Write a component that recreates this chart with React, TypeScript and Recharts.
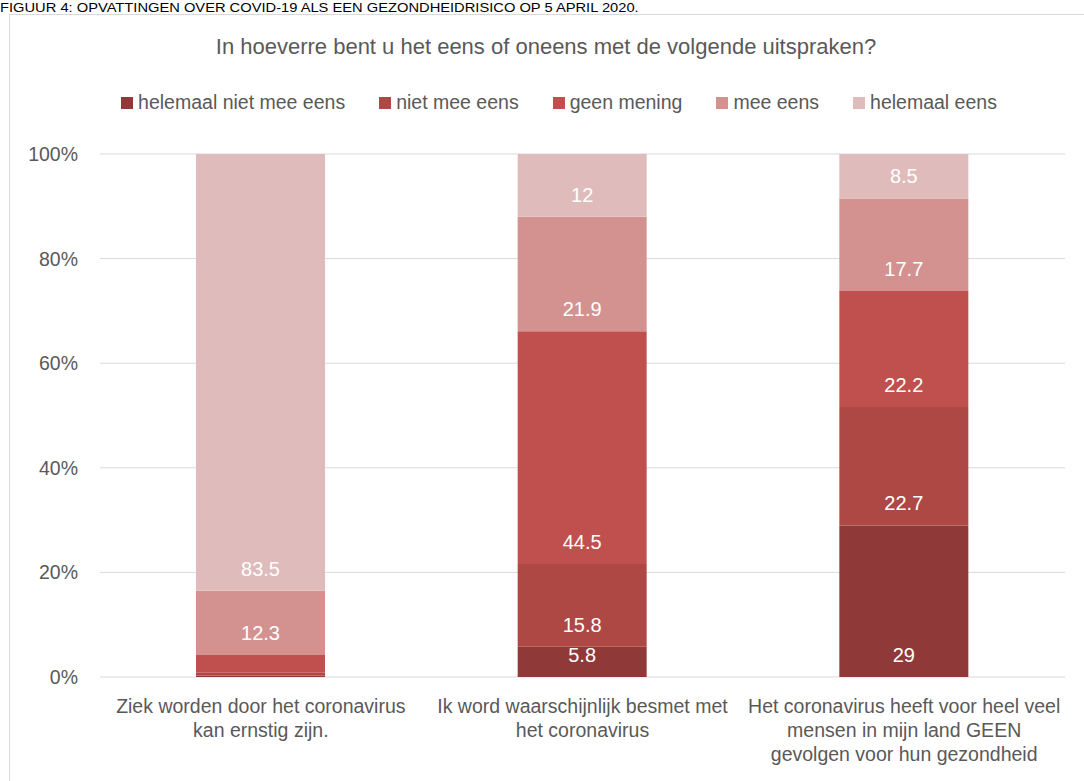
import React from 'react';
import { BarChart, Bar, XAxis, YAxis, CartesianGrid, Legend, LabelList } from 'recharts';

const categories = [
  'Ziek worden door het coronavirus\nkan ernstig zijn.',
  'Ik word waarschijnlijk besmet met\nhet coronavirus',
  'Het coronavirus heeft voor heel veel\nmensen in mijn land GEEN\ngevolgen voor hun gezondheid',
];
const seriesNames = ['helemaal niet mee eens', 'niet mee eens', 'geen mening', 'mee eens', 'helemaal eens'];
const helemaalNietMeeEens = [0.3, 5.8, 29];
const nietMeeEens = [0.5, 15.8, 22.7];
const geenMening = [3.4, 44.5, 22.2];
const meeEens = [12.3, 21.9, 17.7];
const helemaalEens = [83.5, 12, 8.5];
const yTicks = [0, 0.2, 0.4, 0.6, 0.8, 1];
const title = 'In hoeverre bent u het eens of oneens met de volgende uitspraken?';
const caption = 'FIGUUR 4: OPVATTINGEN OVER COVID-19 ALS EEN GEZONDHEIDRISICO OP 5 APRIL 2020.';

const colors = ['#8F3A38', '#AD4845', '#C0504D', '#D39290', '#E0BBBB'];
const keys = ['s0', 's1', 's2', 's3', 's4'];
const seriesValues = [helemaalNietMeeEens, nietMeeEens, geenMening, meeEens, helemaalEens];

const data = categories.map((c, i) => {
  const row: any = { name: c };
  keys.forEach((k, j) => (row[k] = seriesValues[j][i]));
  return row;
});

const FONT = '"Liberation Sans", Arial, sans-serif';
const TXT = '#595959';

const renderLabel = (props: any) => {
  const { x, y, width, height, value } = props;
  if (value == null || value < 5) return null;
  return (
    <text
      x={x + width / 2}
      y={y + height - 22}
      textAnchor="middle"
      dominantBaseline="central"
      fill="#ffffff"
      fontSize={20}
      fontFamily={FONT}
    >
      {value}
    </text>
  );
};

const XTick = (props: any) => {
  const { x, y, payload } = props;
  const lines = String(payload.value).split('\n');
  return (
    <text x={x} y={y} textAnchor="middle" fill={TXT} fontSize={19.5} fontFamily={FONT}>
      {lines.map((l, i) => (
        <tspan key={i} x={x} y={y + 29 + i * 24} dominantBaseline="central">
          {l}
        </tspan>
      ))}
    </text>
  );
};

const LegendContent = (props: any) => {
  const payload = [...(props.payload || [])].sort(
    (a: any, b: any) => seriesNames.indexOf(a.value) - seriesNames.indexOf(b.value)
  );
  return (
    <div style={{ display: 'flex', justifyContent: 'center', fontFamily: FONT, fontSize: 19.5, color: TXT }}>
      {payload.map((p: any, i: number) => (
        <div key={i} style={{ display: 'flex', alignItems: 'center', marginLeft: i === 0 ? 0 : 34 }}>
          <span style={{ width: 12, height: 12, background: p.color, display: 'inline-block', marginRight: 5 }} />
          <span>{p.value}</span>
        </div>
      ))}
    </div>
  );
};

export default function App() {
  return (
    <div style={{ position: 'fixed', left: 0, top: 0, width: 1084, height: 781, overflow: 'hidden', background: '#fff' }}>
      <div
        style={{
          position: 'absolute',
          left: 0,
          top: 0,
          fontFamily: FONT,
          fontSize: 13,
          color: '#000',
          whiteSpace: 'nowrap',
          lineHeight: '15px',
          transform: 'scaleX(1.13)',
          transformOrigin: 'left top',
        }}
      >
        {caption}
      </div>
      <div
        style={{
          position: 'absolute',
          left: 9,
          top: 14,
          width: 1100,
          height: 800,
          border: '1px solid #d9d9d9',
        }}
      />
      <div
        style={{
          position: 'absolute',
          left: 0,
          width: 1092,
          top: 33,
          textAlign: 'center',
          fontFamily: FONT,
          fontSize: 22,
          color: TXT,
          whiteSpace: 'nowrap',
          lineHeight: '28px',
        }}
      >
        {title}
      </div>
      <div style={{ position: 'absolute', left: 0, top: 0 }}>
        <BarChart
          width={1084}
          height={781}
          data={data}
          stackOffset="expand"
          margin={{ top: 154, right: 19, bottom: 0, left: 0 }}
        >
          <CartesianGrid horizontal vertical={false} stroke="#d9d9d9" strokeWidth={1} />
          <XAxis
            dataKey="name"
            axisLine={false}
            tickLine={false}
            tickSize={0}
            tickMargin={0}
            height={104}
            tick={<XTick />}
            interval={0}
          />
          <YAxis
            domain={[0, 1]}
            ticks={yTicks}
            tickFormatter={(v: number) => `${Math.round(v * 100)}%`}
            axisLine={false}
            tickLine={false}
            tickSize={0}
            tickMargin={22}
            width={100}
            tick={{ fill: TXT, fontSize: 19.5, fontFamily: FONT }}
          />
          <Legend
            layout="horizontal"
            verticalAlign="middle"
            align="center"
            wrapperStyle={{ left: 0, top: 91, width: 1118 }}
            content={<LegendContent />}
          />
          {keys.map((k, j) => (
            <Bar
              key={k}
              dataKey={k}
              name={seriesNames[j]}
              stackId="a"
              fill={colors[j]}
              barSize={129}
              isAnimationActive={false}
            >
              <LabelList dataKey={k} content={renderLabel} />
            </Bar>
          ))}
        </BarChart>
      </div>
    </div>
  );
}
